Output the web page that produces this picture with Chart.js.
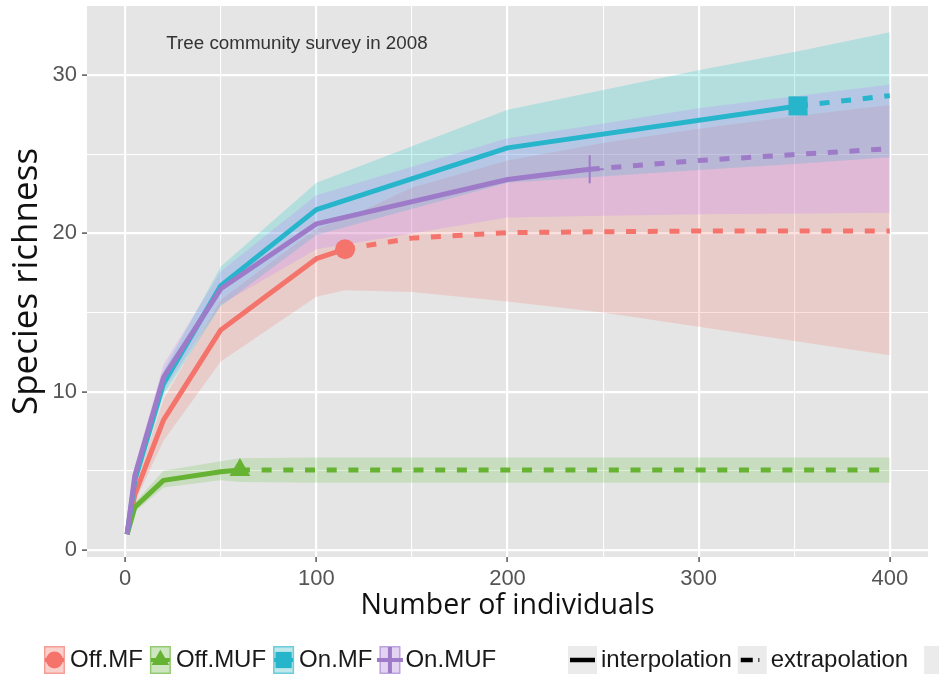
<!DOCTYPE html>
<html><head><meta charset="utf-8">
<script src="https://cdn.jsdelivr.net/npm/chart.js@4/dist/chart.umd.min.js"></script>
<style>html,body{margin:0;padding:0;background:#fff}#wrap{width:939px;height:678px;position:relative}canvas{display:block}</style>
</head><body><div id="wrap"><canvas id="c" width="939" height="678"></canvas></div>
<script>
// ---- data ----
const seriesNames = ['Off.MF', 'Off.MUF', 'On.MF', 'On.MUF'];
const methodNames = ['interpolation', 'extrapolation'];
const xTickLabels = [0, 100, 200, 300, 400];
const yTickLabels = [0, 10, 20, 30];
const annotationText = 'Tree community survey in 2008';

// Off.MF
const offMF_interpX = [1, 5, 20, 50, 100, 115];
const offMF_interpY = [1, 3.5, 8.2, 13.9, 18.4, 19.0];
const offMF_extrapX = [115, 150, 200, 250, 300, 350, 400];
const offMF_extrapY = [19.0, 19.7, 20.05, 20.1, 20.15, 20.15, 20.15];
const offMF_bandX   = [1, 5, 20, 50, 100, 115, 150, 200, 250, 300, 350, 400];
const offMF_lower   = [1, 3.0, 6.9, 11.9, 16.0, 16.4, 16.3, 15.7, 15.0, 14.1, 13.2, 12.3];
const offMF_upper   = [1, 4.0, 9.5, 15.8, 20.3, 20.9, 22.9, 24.6, 25.7, 26.6, 27.4, 28.1];
const offMF_obs     = [115, 19.0];

// Off.MUF
const offMUF_interpX = [1, 5, 20, 50, 60];
const offMUF_interpY = [1, 2.7, 4.4, 4.95, 5.05];
const offMUF_extrapX = [60, 100, 200, 300, 400];
const offMUF_extrapY = [5.05, 5.05, 5.05, 5.05, 5.05];
const offMUF_bandX   = [1, 5, 20, 50, 60, 100, 200, 300, 400];
const offMUF_lower   = [1, 2.4, 3.95, 4.4, 4.3, 4.25, 4.25, 4.25, 4.25];
const offMUF_upper   = [1, 3.0, 5.0, 5.6, 5.8, 5.85, 5.85, 5.85, 5.85];
const offMUF_obs     = [60, 5.05];

// On.MF
const onMF_interpX = [1, 5, 20, 50, 100, 200, 352];
const onMF_interpY = [1, 4.4, 10.5, 16.7, 21.5, 25.4, 28.05];
const onMF_extrapX = [352, 400];
const onMF_extrapY = [28.05, 28.7];
const onMF_bandX   = [1, 5, 20, 50, 100, 200, 300, 352, 400];
const onMF_lower   = [1, 3.9, 9.8, 15.4, 19.9, 23.2, 24.0, 24.4, 24.8];
const onMF_upper   = [1, 4.9, 11.3, 17.9, 23.2, 27.8, 30.3, 31.5, 32.7];
const onMF_obs     = [352, 28.05];

// On.MUF
const onMUF_interpX = [1, 5, 20, 50, 100, 200, 243];
const onMUF_interpY = [1, 4.7, 10.9, 16.5, 20.6, 23.4, 24.05];
const onMUF_extrapX = [243, 300, 400];
const onMUF_extrapY = [24.05, 24.6, 25.35];
const onMUF_bandX   = [1, 5, 20, 50, 100, 200, 243, 300, 400];
const onMUF_lower   = [1, 4.0, 10.1, 15.5, 19.0, 21.0, 21.1, 21.2, 21.3];
const onMUF_upper   = [1, 5.3, 11.7, 17.6, 22.4, 26.0, 26.8, 27.9, 29.4];
const onMUF_obs     = [243, 24.05];

const annotX = 21.5, annotY = 32;

// ---- styles ----
const lineColors = ['#F4736B', '#66B232', '#27B5CC', '#9E7BC8'];
const bandColors = ['rgba(248,118,109,0.22)', 'rgba(110,195,70,0.24)', 'rgba(0,200,198,0.21)', 'rgba(190,120,255,0.22)'];
const keyFill = ['#FAD0CC', '#CDE6C0', '#BFE8EA', '#E3D3F3'];
const markerStyles = ['circle', 'triangle', 'rect', 'cross'];
const markerRadius = [10, 12, 13.5, 14];
const FONT = 'Liberation Sans';

function xy(xs, ys) { return xs.map((x, i) => ({x: x, y: ys[i]})); }

const series = [
  {ix: offMF_interpX, iy: offMF_interpY, ex: offMF_extrapX, ey: offMF_extrapY, bx: offMF_bandX, lo: offMF_lower, up: offMF_upper, obs: offMF_obs},
  {ix: offMUF_interpX, iy: offMUF_interpY, ex: offMUF_extrapX, ey: offMUF_extrapY, bx: offMUF_bandX, lo: offMUF_lower, up: offMUF_upper, obs: offMUF_obs},
  {ix: onMF_interpX, iy: onMF_interpY, ex: onMF_extrapX, ey: onMF_extrapY, bx: onMF_bandX, lo: onMF_lower, up: onMF_upper, obs: onMF_obs},
  {ix: onMUF_interpX, iy: onMUF_interpY, ex: onMUF_extrapX, ey: onMUF_extrapY, bx: onMUF_bandX, lo: onMUF_lower, up: onMUF_upper, obs: onMUF_obs}
];

const datasets = [];
series.forEach((s, k) => {
  datasets.push({label: seriesNames[k] + ' lower', data: xy(s.bx, s.lo), fill: false, borderWidth: 0, borderColor: 'rgba(0,0,0,0)', pointRadius: 0, order: 20 - k});
  datasets.push({label: seriesNames[k] + ' upper', data: xy(s.bx, s.up), fill: '-1', backgroundColor: bandColors[k], borderWidth: 0, borderColor: 'rgba(0,0,0,0)', pointRadius: 0, order: 20 - k});
});
series.forEach((s, k) => {
  datasets.push({label: seriesNames[k] + ' ' + methodNames[1], data: xy(s.ex, s.ey), fill: false, borderColor: lineColors[k], borderWidth: 5, borderDash: [10, 11.7], borderCapStyle: 'butt', pointRadius: 0, order: 10 - k});
  datasets.push({label: seriesNames[k] + ' ' + methodNames[0], data: xy(s.ix, s.iy), fill: false, borderColor: lineColors[k], borderWidth: 5, borderCapStyle: 'butt', borderJoinStyle: 'round', pointRadius: 0, order: 10 - k});
});
series.forEach((s, k) => {
  datasets.push({label: seriesNames[k] + ' observed', data: [{x: s.obs[0], y: s.obs[1]}], showLine: false, fill: false,
    pointStyle: markerStyles[k], pointRadius: markerRadius[k], backgroundColor: lineColors[k],
    borderColor: lineColors[k], borderWidth: k === 3 ? 2 : 0, order: 0});
});

const panelBg = {
  id: 'panelBg',
  beforeDraw(chart) {
    const a = chart.chartArea, ctx = chart.ctx;
    ctx.save(); ctx.fillStyle = '#E5E5E5'; ctx.fillRect(a.left, a.top, a.right - a.left, a.bottom - a.top); ctx.restore();
  }
};

const annot = {
  id: 'annot',
  afterDatasetsDraw(chart) {
    const ctx = chart.ctx, xs = chart.scales.x, ys = chart.scales.y;
    ctx.save();
    ctx.font = '18.8px "' + FONT + '"'; ctx.fillStyle = '#333'; ctx.textAlign = 'left'; ctx.textBaseline = 'middle';
    ctx.fillText(annotationText, xs.getPixelForValue(annotX), ys.getPixelForValue(annotY));
    ctx.restore();
  }
};

const legendDraw = {
  id: 'legendDraw',
  afterDraw(chart) {
    const ctx = chart.ctx;
    const cy = 660, kh = 28, kw = 21;
    ctx.save();
    ctx.font = '24px "' + FONT + '"'; ctx.textBaseline = 'middle'; ctx.textAlign = 'left';
    let x = 44;
    seriesNames.forEach((name, k) => {
      const top = cy - kh / 2;
      ctx.fillStyle = keyFill[k]; ctx.fillRect(x, top, kw, kh);
      ctx.strokeStyle = lineColors[k]; ctx.globalAlpha = 0.55; ctx.lineWidth = 1.5; ctx.strokeRect(x + 0.75, top + 0.75, kw - 1.5, kh - 1.5);
      ctx.globalAlpha = 1;
      ctx.strokeStyle = lineColors[k]; ctx.lineWidth = 4;
      ctx.beginPath(); ctx.moveTo(x + 1, cy); ctx.lineTo(x + kw - 1, cy); ctx.stroke();
      ctx.fillStyle = lineColors[k]; ctx.strokeStyle = lineColors[k];
      Chart.helpers.drawPoint(ctx, {pointStyle: markerStyles[k], radius: k === 3 ? 13 : markerRadius[k] * 0.85, borderWidth: k === 3 ? 1.5 : 0, rotation: 0}, x + kw / 2, cy);
      ctx.fillStyle = '#1a1a1a';
      ctx.fillText(name, x + kw + 5, cy);
      x += kw + 5 + ctx.measureText(name).width + 7;
    });
    // line type keys
    let lx = 568;
    methodNames.forEach((name, k) => {
      ctx.fillStyle = '#EBEBEB'; ctx.fillRect(lx, cy - kh / 2, 29, kh);
      ctx.strokeStyle = '#000'; ctx.lineWidth = 4.5;
      ctx.beginPath();
      if (k === 0) { ctx.moveTo(lx + 2, cy); ctx.lineTo(lx + 27, cy); }
      else { ctx.moveTo(lx + 3, cy); ctx.lineTo(lx + 15, cy); }
      ctx.stroke();
      if (k === 1) { ctx.lineWidth = 1.5; ctx.strokeStyle = '#555'; ctx.beginPath(); ctx.moveTo(lx + 21, cy - 2); ctx.lineTo(lx + 21, cy + 2); ctx.stroke(); }
      ctx.fillStyle = '#1a1a1a';
      ctx.fillText(name, lx + 33, cy);
      lx += 33 + ctx.measureText(name).width + 6;
    });
    ctx.fillStyle = '#EBEBEB'; ctx.fillRect(lx + 10, cy - kh / 2, 16, kh);
    ctx.restore();
  }
};

function gridWidth(ctx, major) { return ctx.tick && ctx.tick.value % major === 0 ? 2.2 : 1.1; }

const chart = new Chart(document.getElementById('c'), {
  type: 'line',
  data: {datasets: datasets},
  plugins: [panelBg, annot, legendDraw],
  options: {
    responsive: false, animation: false, devicePixelRatio: 1,
    layout: {autoPadding: false, padding: {left: 0, right: 11, top: 6, bottom: 55}},
    elements: {line: {tension: 0}},
    plugins: {legend: {display: false}, tooltip: {enabled: false}, filler: {propagate: false}},
    scales: {
      x: {
        type: 'linear', min: -20, max: 420,
        afterFit(s) { s.height = 66; s.paddingLeft = 0; s.paddingRight = 0; },
        border: {display: false},
        grid: {color: '#FFFFFF', lineWidth: c => gridWidth(c, 100), tickLength: 5, tickWidth: 1.5,
               tickColor: c => (c.tick && c.tick.value % 100 === 0) ? '#555' : 'rgba(0,0,0,0)'},
        ticks: {stepSize: 50, includeBounds: false, autoSkip: false, maxRotation: 0, padding: 4,
                font: {family: FONT, size: 22}, color: '#555',
                callback: v => xTickLabels.includes(v) ? String(v) : ''},
        title: {display: true, text: 'Number of individuals', color: '#111', font: {family: 'Open Sans', size: 28.5}, padding: {top: 0, bottom: 0}}
      },
      y: {
        type: 'linear', min: -0.44, max: 34.36,
        afterFit(s) { s.width = 87; s.paddingTop = 0; s.paddingBottom = 0; },
        border: {display: false},
        grid: {color: '#FFFFFF', lineWidth: c => gridWidth(c, 10), tickLength: 5, tickWidth: 1.5,
               tickColor: c => (c.tick && c.tick.value % 10 === 0) ? '#555' : 'rgba(0,0,0,0)'},
        ticks: {stepSize: 5, includeBounds: false, autoSkip: false, padding: 5,
                font: {family: FONT, size: 22}, color: '#555',
                callback: v => yTickLabels.includes(v) ? String(v) : ''},
        title: {display: true, text: 'Species richness', color: '#111', font: {family: 'Open Sans', size: 35}, padding: {top: 6, bottom: 0}}
      }
    }
  }
});
</script></body></html>
